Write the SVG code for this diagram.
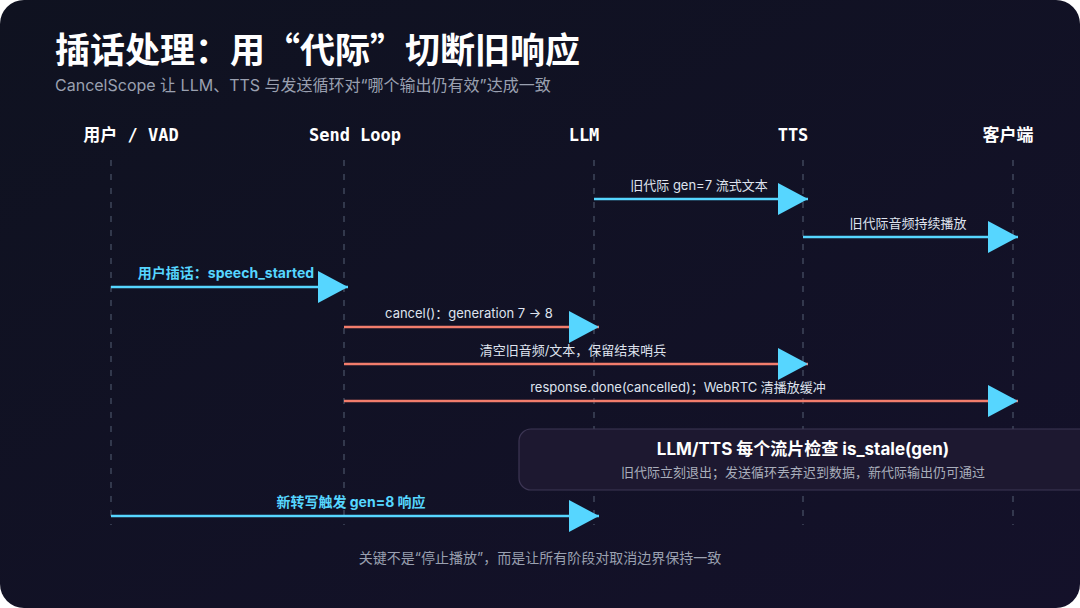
<svg xmlns="http://www.w3.org/2000/svg" width="1080" height="608" viewBox="0 0 1080 608">
<defs>
<linearGradient id="bg" x1="0" y1="0" x2="1" y2="1"><stop offset="0" stop-color="#0f1220"/><stop offset="1" stop-color="#14112a"/></linearGradient>
<marker id="hc" markerUnits="userSpaceOnUse" markerWidth="32" markerHeight="32" refX="30" refY="16" orient="auto"><path d="M0,0 L30,16 L0,32 Z" fill="#56d6ff"/></marker>
<marker id="ho" markerUnits="userSpaceOnUse" markerWidth="32" markerHeight="32" refX="30" refY="16" orient="auto"><path d="M0,0 L30,16 L0,32 Z" fill="#56d6ff"/></marker>
</defs>
<style>
.h{font-family:"DejaVu Sans Mono","Liberation Mono","Noto Sans CJK SC",monospace;font-weight:bold;font-size:17px;fill:#fff;text-anchor:middle}
.life{stroke:#4a5368;stroke-width:1.2;stroke-dasharray:6 8}
.c{stroke:#56d6ff;stroke-width:2.5;marker-end:url(#hc)}
.o{stroke:#f27d6c;stroke-width:2.5;marker-end:url(#ho)}
.l{font-family:"Inter","Noto Sans CJK SC",sans-serif;font-size:13px;fill:#dfe3ee;text-anchor:middle}
.lc{font-family:"Inter","Noto Sans CJK SC",sans-serif;font-size:14px;font-weight:bold;fill:#56d6ff;text-anchor:middle}
</style>
<rect width="1080" height="608" fill="#fff"/>
<rect width="1080" height="608" rx="24" fill="url(#bg)"/>
<text x="55" y="63" font-family="Noto Sans CJK SC,sans-serif" font-size="35" font-weight="bold" fill="#fff">插话处理：用“代际”切断旧响应</text>
<text x="55" y="91" font-family="Inter,Noto Sans CJK SC,sans-serif" font-size="16" fill="#9aa0b0">CancelScope 让 LLM、TTS 与发送循环对“哪个输出仍有效”达成一致</text>
<g id="lifelines">
<line class="life" x1="111" y1="160" x2="111" y2="525"/>
<line class="life" x1="344" y1="160" x2="344" y2="525"/>
<line class="life" x1="594" y1="160" x2="594" y2="525"/>
<line class="life" x1="803" y1="160" x2="803" y2="525"/>
<line class="life" x1="1013" y1="160" x2="1013" y2="525"/>
</g>
<g id="n-user"><text class="h" x="131" y="141">用户 / VAD</text></g>
<g id="n-send"><text class="h" x="355" y="141">Send Loop</text></g>
<g id="n-llm"><text class="h" x="584" y="141">LLM</text></g>
<g id="n-tts"><text class="h" x="793" y="141">TTS</text></g>
<g id="n-client"><text class="h" x="1008" y="141">客户端</text></g>
<g id="connectors">
<line class="c" x1="594" y1="199" x2="808" y2="199"/>
<text class="l" x="699" y="190">旧代际 gen=7 流式文本</text>
<line class="c" x1="803" y1="237" x2="1018" y2="237"/>
<text class="l" x="908" y="228">旧代际音频持续播放</text>
<line class="c" x1="111" y1="287" x2="348" y2="287"/>
<text class="lc" x="226" y="278">用户插话：speech_started</text>
<line class="o" x1="344" y1="327" x2="599" y2="327"/>
<text class="l" x="469" y="318">cancel()：generation 7 → 8</text>
<line class="o" x1="344" y1="364" x2="808" y2="364"/>
<text class="l" x="573" y="355">清空旧音频/文本，保留结束哨兵</text>
<line class="o" x1="344" y1="401" x2="1018" y2="401"/>
<text class="l" x="678" y="392">response.done(cancelled)；WebRTC 清播放缓冲</text>
<line class="c" x1="111" y1="516" x2="599" y2="516"/>
<text class="lc" x="351" y="507">新转写触发 gen=8 响应</text>
</g>
<g id="note">
<rect x="519" y="429" width="580" height="61" rx="12" fill="#1d1830" stroke="#3d3654" stroke-width="1.2"/>
<text x="803" y="455" font-family="Inter,Noto Sans CJK SC,sans-serif" font-size="17" font-weight="bold" fill="#fff" text-anchor="middle">LLM/TTS 每个流片检查 is_stale(gen)</text>
<text x="803" y="477" font-family="Inter,Noto Sans CJK SC,sans-serif" font-size="13" fill="#a9aebb" text-anchor="middle">旧代际立刻退出；发送循环丢弃迟到数据，新代际输出仍可通过</text>
</g>
<text x="540" y="563" font-family="Inter,Noto Sans CJK SC,sans-serif" font-size="14" fill="#9aa0b0" text-anchor="middle">关键不是“停止播放”，而是让所有阶段对取消边界保持一致</text>
</svg>
